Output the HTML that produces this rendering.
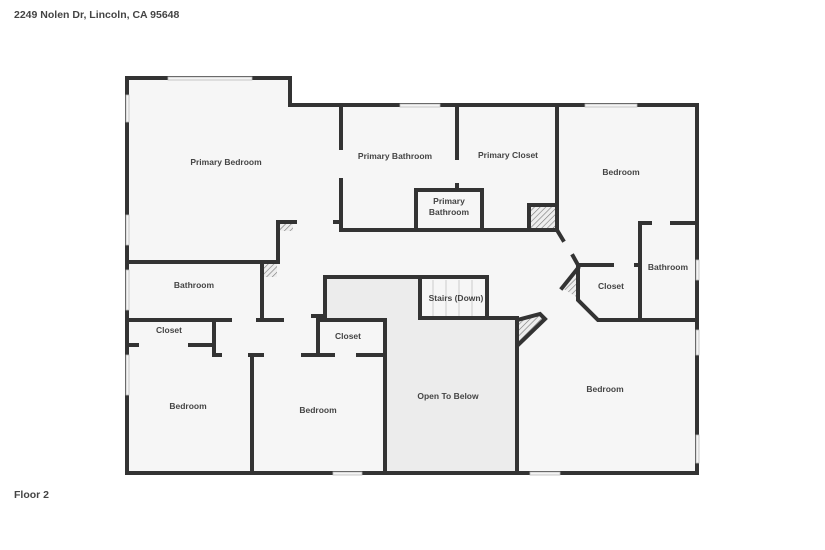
<!DOCTYPE html>
<html><head><meta charset="utf-8"><style>
body{margin:0;background:#fff;width:825px;height:550px;overflow:hidden}
svg{display:block}
text{font-family:"Liberation Sans",sans-serif;font-weight:bold;fill:#444;font-size:8.5px;text-anchor:middle}
</style></head><body>
<svg width="825" height="550" viewBox="0 0 825 550">
<defs><pattern id="h" width="4" height="4" patternUnits="userSpaceOnUse" patternTransform="rotate(45)"><rect width="4" height="4" fill="#eee"/><line x1="0" y1="0" x2="0" y2="4" stroke="#777" stroke-width="1.2"/></pattern></defs>
<text x="14" y="18" style="text-anchor:start;font-size:10.5px">2249 Nolen Dr, Lincoln, CA 95648</text>
<text x="14" y="498" style="text-anchor:start;font-size:10.5px">Floor 2</text>
<path d="M127 78H290V105H697V473H127Z" fill="#f6f6f6"/>
<path d="M327 279H420V318H517V473H387V320H327Z" fill="#ececec"/>
<rect x="420" y="277" width="67" height="41" fill="#f6f6f6"/>
<g stroke="#ccc" stroke-width="1">
<line x1="433" y1="280" x2="433" y2="316"/><line x1="446" y1="280" x2="446" y2="316"/><line x1="459" y1="280" x2="459" y2="316"/><line x1="472" y1="280" x2="472" y2="316"/></g>
<rect x="529" y="205" width="28" height="25" fill="url(#h)"/>
<rect x="262" y="262" width="15" height="15" fill="url(#h)"/>
<rect x="280" y="223" width="13" height="8" fill="url(#h)"/>
<polygon points="517,318 540,315 545,320 519,345" fill="url(#h)"/>
<polygon points="562,288 578,268 578,298" fill="url(#h)"/>
<g stroke="#333" stroke-width="4" fill="none" stroke-linecap="square">
<path d="M127 78H290V105H697V473H127Z"/>
<path d="M341 105V148M341 180V230H557"/>
<path d="M127 262H278V222H295M335 222H341"/>
<path d="M457 105V158M457 185V190"/>
<path d="M416 230V190H482V230"/>
<path d="M557 105V230H529V205H557"/>
<path d="M557 230L563 240M573 256L578 265H612M636 265H640"/>
<path d="M640 320V223H650M672 223H697"/>
<path d="M578 265V300L598 320H697"/>
<path d="M562 288L578 268"/>
<path d="M517 320V473"/>
<path d="M487 318H517"/>
<path d="M517 320L540 314L545 319L519 344"/>
<path d="M325 320V277H487V318H420V277"/>
<path d="M385 320V473"/>
<path d="M313 316H325"/>
<path d="M262 262V320H282"/>
<path d="M127 320H230M258 320H262"/>
<path d="M214 320V355H220M250 355H262M303 355H333M358 355H385"/>
<path d="M127 345H137M190 345H214"/>
<path d="M318 320H385M318 320V355"/>
<path d="M252 355V473"/>
</g>
<g fill="#f4f4f4" stroke="#bbb" stroke-width="0.8">
<rect x="168" y="77" width="84" height="3"/><rect x="400" y="104" width="40" height="3"/><rect x="585" y="104" width="52" height="3"/>
<rect x="126" y="95" width="3" height="27"/><rect x="126" y="215" width="3" height="30"/><rect x="126" y="270" width="3" height="40"/><rect x="126" y="355" width="3" height="40"/>
<rect x="696" y="260" width="3" height="20"/><rect x="696" y="330" width="3" height="25"/><rect x="696" y="435" width="3" height="28"/>
<rect x="333" y="472" width="29" height="3"/><rect x="530" y="472" width="30" height="3"/>
</g>
<text x="226" y="165">Primary Bedroom</text>
<text x="395" y="159">Primary Bathroom</text>
<text x="508" y="158">Primary Closet</text>
<text x="449" y="204">Primary</text><text x="449" y="215">Bathroom</text>
<text x="621" y="175">Bedroom</text>
<text x="668" y="270">Bathroom</text>
<text x="611" y="289">Closet</text>
<text x="194" y="288">Bathroom</text>
<text x="169" y="333">Closet</text>
<text x="348" y="339">Closet</text>
<text x="456" y="301">Stairs (Down)</text>
<text x="448" y="399">Open To Below</text>
<text x="605" y="392">Bedroom</text>
<text x="188" y="409">Bedroom</text>
<text x="318" y="413">Bedroom</text>
</svg>
</body></html>
